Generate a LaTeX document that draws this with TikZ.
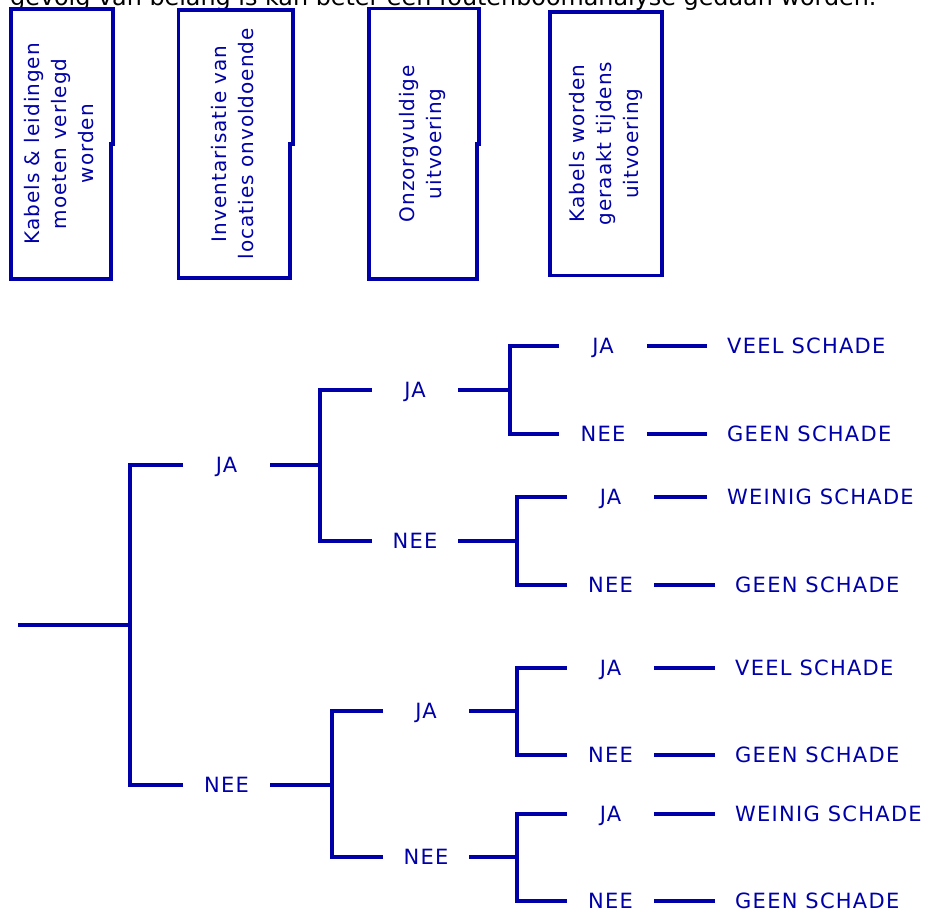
\documentclass[tikz,border=0pt]{standalone}
\usepackage{fontspec}
\setmainfont{DejaVu Sans}
\newfontfamily\treefont[LetterSpace=6]{DejaVu Sans}
\newfontfamily\boxfont[LetterSpace=5]{DejaVu Sans}
\definecolor{treeblue}{RGB}{0,0,168}

\begin{document}
\begin{tikzpicture}[x=1pt,y=-1pt,
  branch/.style={draw=treeblue, line width=4pt},
  boxline/.style={draw=treeblue, line width=3.6pt, line join=miter},
  boxnode/.style={inner sep=0pt, text=treeblue,
    font=\boxfont\fontsize{20}{27}\selectfont},
  answer/.style={inner sep=0pt, text height=15.3pt, text depth=0pt,
    text=treeblue, font=\treefont\fontsize{21}{25}\selectfont},
  gapA/.style={answer, minimum width=87pt},
  gapB/.style={answer, minimum width=86pt},
  gapC/.style={answer, minimum width=87.5pt},
  outcome/.style={answer, anchor=west, inner xsep=20pt},
  header/.style={anchor=base west, inner sep=0pt,
    font=\fontsize{23.85}{28}\selectfont}]

% page frame
\useasboundingbox (0,0) rectangle (930,913);
\fill[white] (0,0) rectangle (930,913);
\clip (0,0) rectangle (930,913);

% running sentence above the boxes (only its lower edge lies on the page)
\node[header] (intro) at (10,5)
  {gevolg van belang is kan beter een foutenboomanalyse gedaan worden.};

% ---- the four event boxes ----
\node[boxnode, minimum width=99.5pt, minimum height=269.5pt] (b1) at (60.75,143.75)
  {\rotatebox{90}{\begin{tabular}{@{}c@{}}Kabels \& leidingen\\moeten verlegd\\worden\end{tabular}}};
\node[boxnode, minimum width=111.5pt, minimum height=267.5pt] (b2) at (234.25,143.75)
  {\rotatebox{90}{\begin{tabular}{@{}c@{}}Inventarisatie van\\locaties onvoldoende\end{tabular}}};
\node[boxnode, minimum width=108pt, minimum height=270pt] (b3) at (423,143.7)
  {\rotatebox{90}{\begin{tabular}{@{}c@{}}Onzorgvuldige\\uitvoering\end{tabular}}};
\node[boxnode, minimum width=111.7pt, minimum height=263.3pt] (b4) at (605.8,143.6)
  {\rotatebox{90}{\begin{tabular}{@{}c@{}}Kabels worden\\geraakt tijdens\\uitvoering\end{tabular}}};

% outlines, the upper half of the right edge sits slightly further out
\draw[boxline] (b1.north west) -- ([xshift=2pt]b1.north east) -- ([xshift=2pt]b1.east)
  -- (b1.east) -- (b1.south east) -- (b1.south west) -- cycle;
\draw[boxline] (b2.north west) -- ([xshift=3pt]b2.north east) -- ([xshift=3pt]b2.east)
  -- (b2.east) -- (b2.south east) -- (b2.south west) -- cycle;
\draw[boxline] (b3.north west) -- ([xshift=1.7pt]b3.north east) -- ([xshift=1.7pt]b3.east)
  -- (b3.east) -- (b3.south east) -- (b3.south west) -- cycle;
\draw[boxline] (b4.north west) rectangle (b4.south east);

% ---- event tree ----
\coordinate (r0) at (18,625);
\coordinate (j0) at (130,625);

% first branching
\node[gapA] (n1) at (226.5,465) {JA};
\node[gapA] (n2) at (226.5,785) {NEE};
\coordinate (j1) at (320,465);
\coordinate (j2) at (332,785);

% second branching
\node[gapB] (n11) at (415,390) {JA};
\node[gapB] (n12) at (415,541) {NEE};
\node[gapB] (n21) at (426,711) {JA};
\node[gapB] (n22) at (426,857) {NEE};
\coordinate (j11) at (510,390);
\coordinate (j12) at (517,541);
\coordinate (j21) at (517,711);
\coordinate (j22) at (517,857);

% third branching
\node[gapC] (n111) at (603,346) {JA};
\node[gapC] (n112) at (603,434) {NEE};
\node[gapC] (n121) at (610.5,497) {JA};
\node[gapC] (n122) at (610.5,585) {NEE};
\node[gapC] (n211) at (610.5,668) {JA};
\node[gapC] (n212) at (610.5,755) {NEE};
\node[gapC] (n221) at (610.5,814) {JA};
\node[gapC] (n222) at (610.5,901) {NEE};

% consequences
\node[outcome] (o111) at (707,346) {VEEL SCHADE};
\node[outcome] (o112) at (707,434) {GEEN SCHADE};
\node[outcome] (o121) at (707,497) {WEINIG SCHADE};
\node[outcome] (o122) at (715,585) {GEEN SCHADE};
\node[outcome] (o211) at (715,668) {VEEL SCHADE};
\node[outcome] (o212) at (715,755) {GEEN SCHADE};
\node[outcome] (o221) at (715,814) {WEINIG SCHADE};
\node[outcome] (o222) at (715,901) {GEEN SCHADE};

% forks
\draw[branch] (r0) -- (j0);
\draw[branch] (n1.west) -| (j0) |- (n2.west);

\draw[branch] (n1.east) -- (j1);
\draw[branch] (n11.west) -| (j1) |- (n12.west);
\draw[branch] (n2.east) -- (j2);
\draw[branch] (n21.west) -| (j2) |- (n22.west);

\draw[branch] (n11.east) -- (j11);
\draw[branch] (n111.west) -| (j11) |- (n112.west);
\draw[branch] (n12.east) -- (j12);
\draw[branch] (n121.west) -| (j12) |- (n122.west);
\draw[branch] (n21.east) -- (j21);
\draw[branch] (n211.west) -| (j21) |- (n212.west);
\draw[branch] (n22.east) -- (j22);
\draw[branch] (n221.west) -| (j22) |- (n222.west);

% leads to the consequences
\draw[branch] (n111.east) -- (o111.west);
\draw[branch] (n112.east) -- (o112.west);
\draw[branch] (n121.east) -- (o121.west);
\draw[branch] (n122.east) -- (o122.west);
\draw[branch] (n211.east) -- (o211.west);
\draw[branch] (n212.east) -- (o212.west);
\draw[branch] (n221.east) -- (o221.west);
\draw[branch] (n222.east) -- (o222.west);
\end{tikzpicture}
\end{document}
